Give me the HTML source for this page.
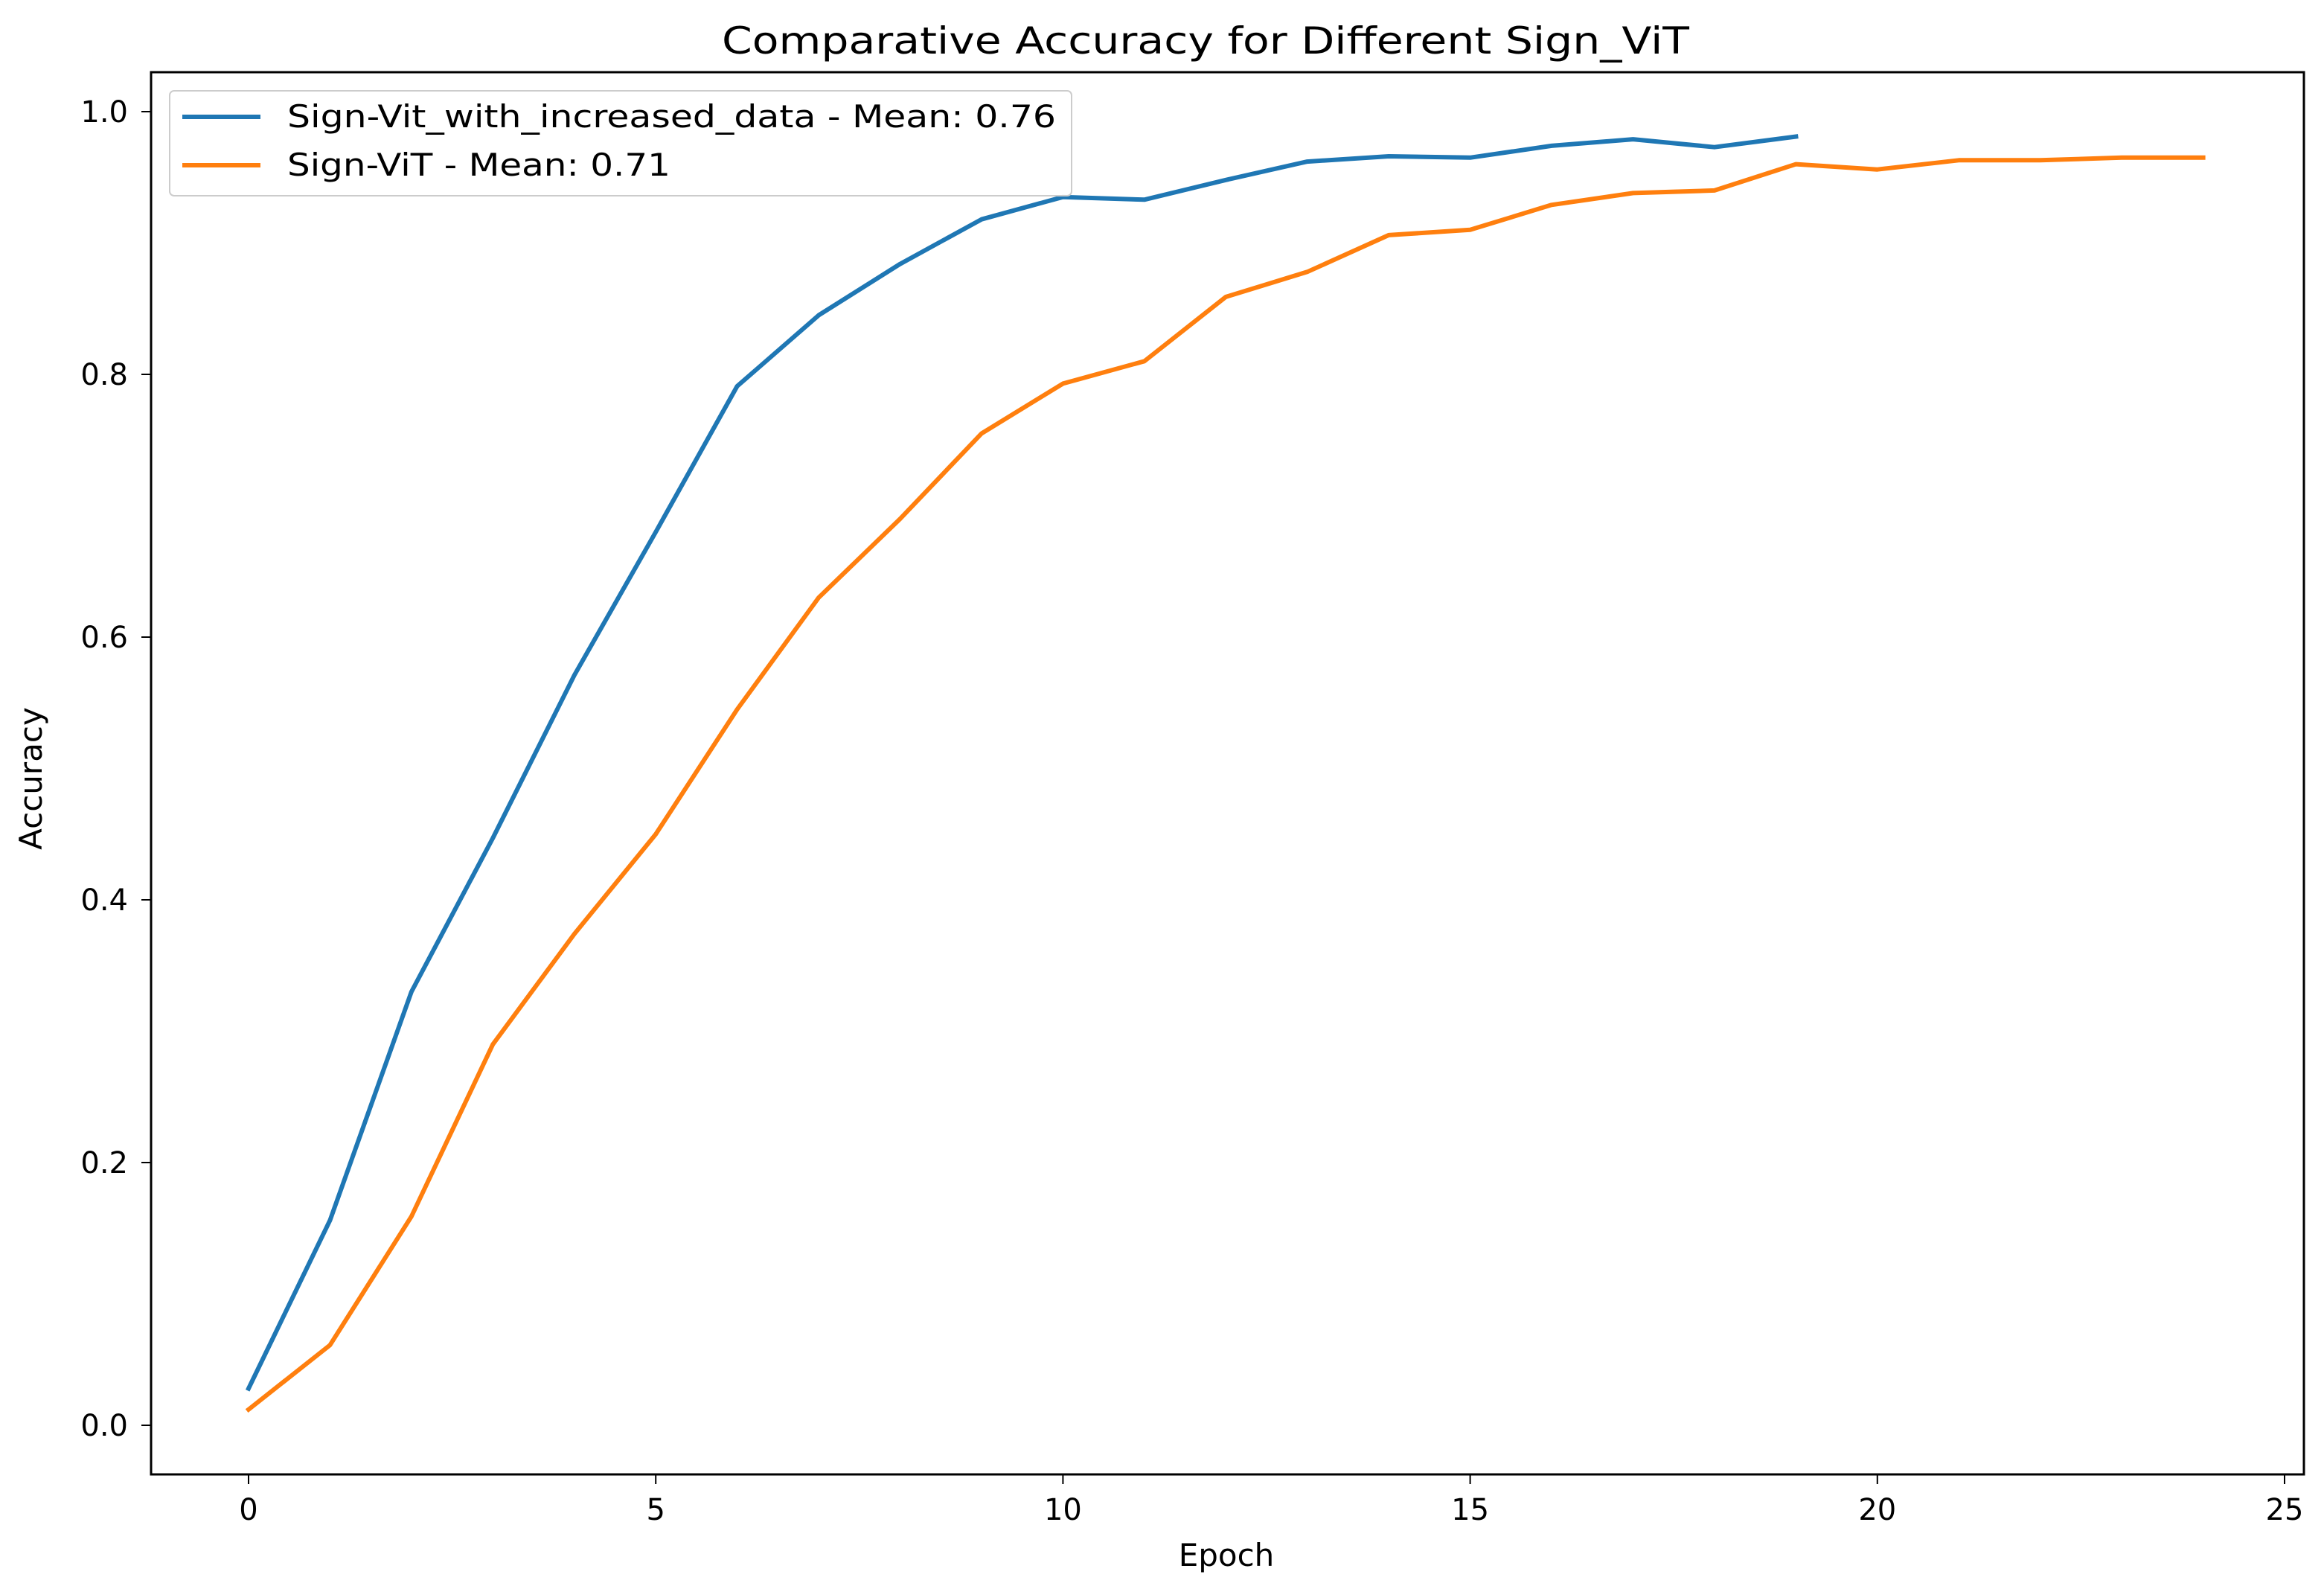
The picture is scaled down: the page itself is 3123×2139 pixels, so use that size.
<!DOCTYPE html>
<html><head><meta charset="utf-8"><style>
html,body{margin:0;padding:0;background:#fff;}
svg{display:block;font-family:"DejaVu Sans","Liberation Sans",sans-serif;}
</style></head><body>
<svg id="chart" width="3123" height="2139" viewBox="0 0 3123 2139" xmlns="http://www.w3.org/2000/svg">
<text x="1620" y="72" font-size="50" text-anchor="middle" textLength="1300" lengthAdjust="spacingAndGlyphs">Comparative Accuracy for Different Sign_ViT</text>
<g id="plot"></g>
<rect x="203" y="97" width="2893" height="1884" fill="none" stroke="#000" stroke-width="3"/>
<text transform="translate(56,1046) rotate(-90)" font-size="42" text-anchor="middle">Accuracy</text>
<text x="1648" y="2104" font-size="42" text-anchor="middle">Epoch</text>
<g>
<rect x="228" y="122" width="1212" height="141" rx="6" fill="#fff" fill-opacity="0.8" stroke="#ccc" stroke-width="2"/>
<line x1="245" y1="157" x2="350" y2="157" stroke="#1f77b4" stroke-width="6"/>
<text x="386" y="171" font-size="42" textLength="1033" lengthAdjust="spacingAndGlyphs">Sign-Vit_with_increased_data - Mean: 0.76</text>
<line x1="245" y1="222" x2="350" y2="222" stroke="#ff7f0e" stroke-width="6"/>
<text x="386" y="236" font-size="42" textLength="515" lengthAdjust="spacingAndGlyphs">Sign-ViT - Mean: 0.71</text>
</g>
</svg>
<script>
const epochsA = [0,1,2,3,4,5,6,7,8,9,10,11,12,13,14,15,16,17,18,19];
const accIncreased = [0.028,0.156,0.33,0.447,0.571,0.68,0.791,0.845,0.884,0.918,0.935,0.933,0.948,0.962,0.966,0.965,0.974,0.979,0.973,0.981];
const epochsB = [0,1,2,3,4,5,6,7,8,9,10,11,12,13,14,15,16,17,18,19,20,21,22,23,24];
const accSignVit = [0.012,0.061,0.159,0.29,0.374,0.45,0.545,0.63,0.69,0.755,0.793,0.81,0.859,0.878,0.906,0.91,0.929,0.938,0.94,0.96,0.956,0.963,0.963,0.965,0.965];
const xTicks = [0,5,10,15,20,25];
const yTicks = [0.0,0.2,0.4,0.6,0.8,1.0];
const yTickLabels = ["0.0","0.2","0.4","0.6","0.8","1.0"];

const NS="http://www.w3.org/2000/svg";
const sx = v => 334 + v*(3070-334)/25;
const sy = v => 1915 - v*(1915-150);
const svg=document.getElementById('chart');
const plot=document.getElementById('plot');
function mk(tag,attrs,parent){const e=document.createElementNS(NS,tag);for(const k in attrs)e.setAttribute(k,attrs[k]);(parent||svg).appendChild(e);return e;}

xTicks.forEach(t=>{
  const l=mk('line',{x1:sx(t),x2:sx(t),y1:1981,y2:1994,stroke:'#000','stroke-width':2});
  
  
  const tx=mk('text',{x:sx(t),y:2042,'font-size':40,'text-anchor':'middle'});
  tx.textContent=String(t);
  
  
});
yTicks.forEach((t,i)=>{
  const l=mk('line',{x1:190,x2:203,y1:sy(t),y2:sy(t),stroke:'#000','stroke-width':2});
  
  
  const tx=mk('text',{x:172,y:sy(t)+14,'font-size':40,'text-anchor':'end'});
  tx.textContent=yTickLabels[i];
  
  
});
function line(xs,ys,color,name){
  const d=xs.map((x,i)=>(i?'L':'M')+sx(x).toFixed(1)+','+sy(ys[i]).toFixed(1)).join(' ');
  const p=mk('path',{d:d,fill:'none',stroke:color,'stroke-width':6,'stroke-linejoin':'round','stroke-linecap':'square'},plot);
  
  
}
line(epochsA,accIncreased,'#1f77b4','line-sign-vit-increased-data');
line(epochsB,accSignVit,'#ff7f0e','line-sign-vit');
</script>
</body></html>
